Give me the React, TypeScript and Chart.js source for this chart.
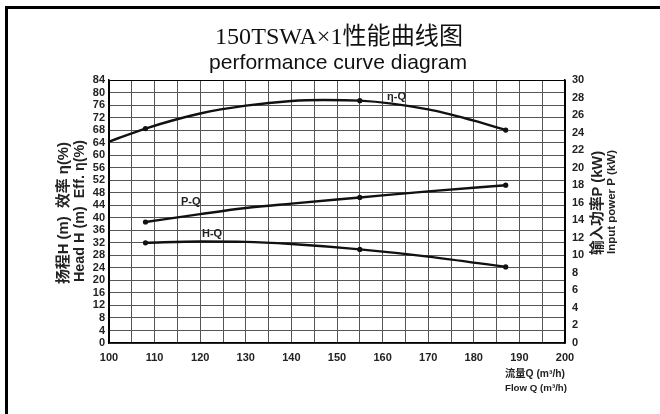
import React, { useEffect, useRef } from "react";
import { Chart, registerables } from "chart.js";

Chart.register(...registerables);

// ---- data ----
const flowEta = [100, 108, 120, 130, 140, 147, 155, 170, 180, 187];
const effValues = [64.3, 68.5, 73.3, 75.8, 77.3, 77.6, 77.4, 74.6, 71.0, 68.0];

const flowPower = [108, 120, 130, 140, 155, 170, 187];
const powerValues = [13.8, 14.7, 15.4, 15.9, 16.6, 17.3, 18.0];

const flowHead = [108, 120, 130, 140, 155, 170, 187];
const headValues = [32.0, 32.4, 32.3, 31.6, 29.9, 27.6, 24.3];

const markerFlows = [108, 155, 187];

const xGridValues = [100, 105, 110, 115, 120, 125, 130, 135, 140, 145, 150, 155, 160, 165, 170, 175, 180, 185, 190, 195, 200];
const xTickLabels = [100, 110, 120, 130, 140, 150, 160, 170, 180, 190, 200];
const leftTicks = [0, 4, 8, 12, 16, 20, 24, 28, 32, 36, 40, 44, 48, 52, 56, 60, 64, 68, 72, 76, 80, 84];
const rightTicks = [0, 2, 4, 6, 8, 10, 12, 14, 16, 18, 20, 22, 24, 26, 28, 30];

const titleCn = "150TSWA×1性能曲线图";
const titleEn = "performance curve diagram";
const leftTitleCn = "扬程H (m)  效率 η(%)";
const leftTitleEn = "Head H (m)  Eff. η(%)";
const rightTitleCn = "输入功率P (kW)";
const rightTitleEn = "Input power P (kW)";
const xTitleCn = "流量Q (m³/h)";
const xTitleEn = "Flow Q (m³/h)";

const SANS = "'Liberation Sans', Arial, 'Noto Sans CJK SC', sans-serif";
const SERIF = "'Liberation Serif', 'Times New Roman', 'Noto Sans CJK SC', serif";

function fitText(
  ctx: CanvasRenderingContext2D,
  text: string,
  cx: number,
  cy: number,
  target: number,
  weight: string,
  family: string,
  rot: number,
  align: CanvasTextAlign = "center"
) {
  ctx.font = `${weight} 20px ${family}`;
  const w = ctx.measureText(text).width;
  const size = (20 * target) / w;
  ctx.font = `${weight} ${size.toFixed(2)}px ${family}`;
  ctx.save();
  ctx.translate(cx, cy);
  ctx.rotate(rot);
  ctx.textAlign = align;
  ctx.textBaseline = "middle";
  ctx.fillText(text, 0, 0);
  ctx.restore();
}

const decorPlugin = {
  id: "decor",
  afterDraw(chart: any) {
    const ctx: CanvasRenderingContext2D = chart.ctx;
    ctx.save();
    ctx.fillStyle = "#000";
    ctx.fillRect(5, 6, 3, 410);
    ctx.fillRect(5, 6, 655, 3);

    ctx.fillStyle = "#111";
    fitText(ctx, titleCn, 339, 38, 248, "normal", SERIF, 0);
    fitText(ctx, titleEn, 338, 63, 258, "normal", SANS, 0);

    ctx.fillStyle = "#222";
    fitText(ctx, leftTitleCn, 64, 213, 142, "bold", SANS, -Math.PI / 2);
    fitText(ctx, leftTitleEn, 80, 211, 142, "bold", SANS, -Math.PI / 2);
    fitText(ctx, rightTitleCn, 598, 203, 104, "bold", SANS, -Math.PI / 2);
    fitText(ctx, rightTitleEn, 612, 202, 104, "bold", SANS, -Math.PI / 2);

    fitText(ctx, xTitleCn, 505, 374, 60, "bold", SANS, 0, "left");
    fitText(ctx, xTitleEn, 505, 388, 62, "bold", SANS, 0, "left");

    ctx.font = `bold 11px ${SANS}`;
    ctx.textAlign = "left";
    ctx.textBaseline = "middle";
    ctx.fillText("η-Q", 387, 97);
    ctx.fillText("P-Q", 181, 202);
    ctx.fillText("H-Q", 202, 234);
    ctx.restore();
  },
};

export default function App() {
  const ref = useRef<HTMLCanvasElement | null>(null);

  useEffect(() => {
    if (!ref.current) return;
    const pts = (xs: number[], ys: number[]) => xs.map((x, i) => ({ x, y: ys[i] }));
    const radius = (c: any) => (c.raw && markerFlows.includes(c.raw.x) ? 2.6 : 0);
    const common = {
      borderColor: "#111",
      backgroundColor: "#111",
      borderWidth: 2.4,
      pointRadius: radius,
      pointHoverRadius: radius,
      pointBorderWidth: 0,
      cubicInterpolationMode: "monotone" as const,
      fill: false,
    };
    const chart = new Chart(ref.current, {
      type: "line",
      data: {
        datasets: [
          { ...common, label: "η-Q", data: pts(flowEta, effValues), yAxisID: "y" },
          { ...common, label: "P-Q", data: pts(flowPower, powerValues), yAxisID: "y1" },
          { ...common, label: "H-Q", data: pts(flowHead, headValues), yAxisID: "y" },
        ],
      },
      options: {
        animation: false,
        responsive: false,
        events: [],
        layout: { padding: { top: 80, left: 0, right: 0, bottom: 0 } },
        plugins: { legend: { display: false }, tooltip: { enabled: false }, title: { display: false } },
        scales: {
          x: {
            type: "linear",
            min: 100,
            max: 200,
            afterBuildTicks: (s: any) => {
              s.ticks = xGridValues.map((v) => ({ value: v }));
            },
            afterFit: (s: any) => {
              s.height = 71;
            },
            ticks: {
              autoSkip: false,
              maxRotation: 0,
              padding: 8,
              color: "#222",
              font: { family: SANS, size: 11, weight: "bold" },
              callback: (v: any) => (xTickLabels.includes(Number(v)) ? String(v) : ""),
            },
            grid: {
              drawTicks: false,
              color: (c: any) => (c.tick && (c.tick.value === 100 || c.tick.value === 200) ? "#000" : "#555"),
              lineWidth: 1,
            },
            border: { color: "#000", width: 1.5 },
          },
          y: {
            type: "linear",
            position: "left",
            min: 0,
            max: 84,
            afterBuildTicks: (s: any) => {
              s.ticks = leftTicks.map((v) => ({ value: v }));
            },
            afterFit: (s: any) => {
              s.width = 109;
            },
            ticks: {
              autoSkip: false,
              padding: 4,
              color: "#222",
              font: { family: SANS, size: 11, weight: "bold" },
            },
            grid: {
              drawTicks: false,
              color: (c: any) => (c.tick && c.tick.value === 84 ? "#000" : "#555"),
              lineWidth: 1,
            },
            border: { color: "#000", width: 1.5 },
          },
          y1: {
            type: "linear",
            position: "right",
            min: 0,
            max: 30,
            afterBuildTicks: (s: any) => {
              s.ticks = rightTicks.map((v) => ({ value: v }));
            },
            afterFit: (s: any) => {
              s.width = 95;
            },
            ticks: {
              autoSkip: false,
              padding: 7,
              color: "#222",
              font: { family: SANS, size: 11, weight: "bold" },
            },
            grid: { display: false, drawTicks: false },
            border: { color: "#000", width: 1.5 },
          },
        },
      },
      plugins: [decorPlugin],
    } as any);
    return () => chart.destroy();
  }, []);

  return (
    <div style={{ position: "fixed", left: 0, top: 0, width: 660, height: 414, background: "#fff" }}>
      <canvas ref={ref} width={660} height={414} style={{ width: 660, height: 414, display: "block" }} />
    </div>
  );
}
